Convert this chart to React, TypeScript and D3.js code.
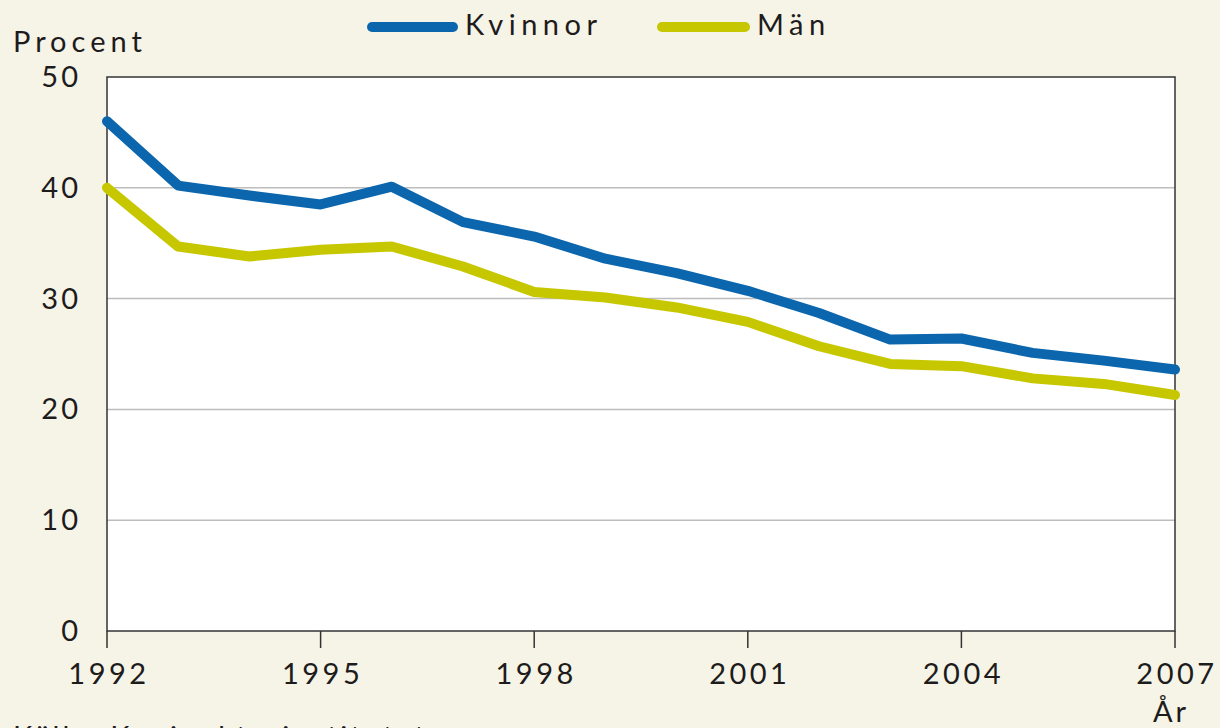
import React from "react";
import * as d3 from "d3";

const years = [1992, 1993, 1994, 1995, 1996, 1997, 1998, 1999, 2000, 2001, 2002, 2003, 2004, 2005, 2006, 2007];
const kvinnor = [46.0, 40.2, 39.3, 38.5, 40.1, 36.9, 35.6, 33.6, 32.3, 30.7, 28.7, 26.3, 26.4, 25.1, 24.4, 23.6];
const man = [40.0, 34.7, 33.8, 34.4, 34.7, 32.9, 30.6, 30.1, 29.2, 27.9, 25.7, 24.1, 23.9, 22.8, 22.3, 21.3];
const yTicks = [0, 10, 20, 30, 40, 50];
const xTicks = [1992, 1995, 1998, 2001, 2004, 2007];
const seriesNames = ["Kvinnor", "Män"];

const W = 1220;
const H = 728;
const left = 107;
const right = 1175;
const top = 77;
const bottom = 631;
const FONT = "Lato, 'Open Sans', sans-serif";
const BLUE = "#0b66ae";
const YELLOW = "#c7c700";
const INK = "#1e1b1c";

export default function App() {
  const x = d3.scaleLinear().domain([1992, 2007]).range([left, right]);
  const y = d3.scaleLinear().domain([0, 50]).range([bottom, top]);
  const line = d3
    .line<number>()
    .x((_, i) => x(years[i]))
    .y((d) => y(d));

  return (
    <svg
      width={W}
      height={H}
      style={{ position: "absolute", left: 0, top: 0, background: "#f5f4e6" }}
      fontFamily={FONT}
    >
      <rect x={0} y={0} width={W} height={H} fill="#f5f4e6" />
      <rect x={left} y={top} width={right - left} height={bottom - top} fill="#ffffff" />
      {yTicks
        .filter((t) => t > 0 && t < 50)
        .map((t) => (
          <line key={t} x1={left} x2={right} y1={y(t)} y2={y(t)} stroke="#bdbdbd" strokeWidth={1.5} />
        ))}
      <rect
        x={left}
        y={top}
        width={right - left}
        height={bottom - top}
        fill="none"
        stroke="#333"
        strokeWidth={1.5}
      />
      {xTicks.map((t) => (
        <g key={t}>
          <line x1={x(t)} x2={x(t)} y1={bottom} y2={bottom + 17} stroke="#333" strokeWidth={1.5} />
          <text x={x(t) + 2} y={684} textAnchor="middle" fontSize={29} fill={INK} letterSpacing={3.5}>
            {t}
          </text>
        </g>
      ))}
      {yTicks.map((t) => (
        <text key={t} x={81} y={y(t) + 10} textAnchor="end" fontSize={29} fill={INK} letterSpacing={3}>
          {t}
        </text>
      ))}
      <path d={line(man) || ""} fill="none" stroke={YELLOW} strokeWidth={10} strokeLinejoin="round" strokeLinecap="round" />
      <path d={line(kvinnor) || ""} fill="none" stroke={BLUE} strokeWidth={10} strokeLinejoin="round" strokeLinecap="round" />
      <text x={13} y={52} fontSize={29} fill={INK} letterSpacing={5}>
        Procent
      </text>
      <text x={1153} y={722} fontSize={29} fill={INK} letterSpacing={3}>
        År
      </text>
      <line x1={372} x2={453} y1={27} y2={27} stroke={BLUE} strokeWidth={10} strokeLinecap="round" />
      <text x={465} y={35} fontSize={29} fill={INK} letterSpacing={5.5}>
        {seriesNames[0]}
      </text>
      <line x1={662} x2={745} y1={27} y2={27} stroke={YELLOW} strokeWidth={10} strokeLinecap="round" />
      <text x={757} y={35} fontSize={29} fill={INK} letterSpacing={5.5}>
        {seriesNames[1]}
      </text>
      <text x={13} y={747} fontSize={29} fill={INK} letterSpacing={3}>
        Källa: Konjunkturinstitutet
      </text>
    </svg>
  );
}
